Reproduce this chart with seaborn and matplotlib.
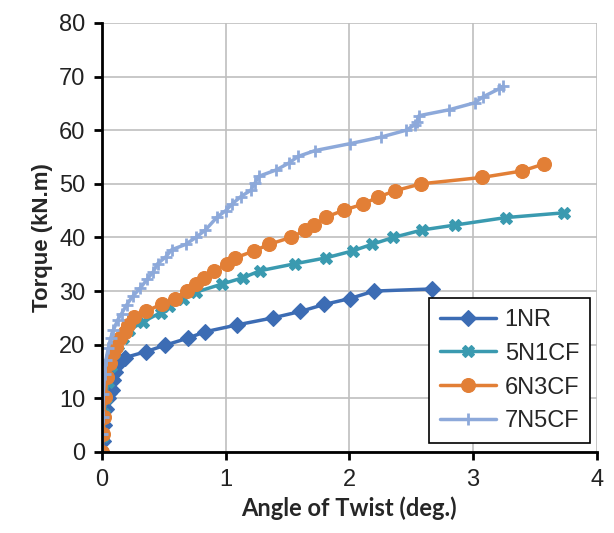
import numpy as np
import pandas as pd
import matplotlib
matplotlib.use("Agg")
import matplotlib.pyplot as plt
import seaborn as sns

sns.set_style("white")
plt.rcParams['font.family'] = ['Liberation Sans', 'DejaVu Sans']

# 1NR
x_1nr = [0, 0.01, 0.02, 0.03, 0.05, 0.06, 0.078, 0.092, 0.105, 0.145, 0.186, 0.355, 0.509,
         0.692, 0.832, 1.093, 1.381, 1.604, 1.795, 2.003, 2.199, 2.670]
y_1nr = [0, 2, 5, 8, 10, 11, 11.6, 13.4, 15.0, 16.8, 17.6, 18.7, 19.9,
         21.2, 22.4, 23.7, 25.0, 26.2, 27.5, 28.6, 30.0, 30.4]

# 5N1CF
x_5n1 = [0, 0.01, 0.02, 0.03, 0.05, 0.07, 0.10, 0.13, 0.172, 0.221, 0.334, 0.476, 0.544,
         0.657, 0.759, 0.969, 1.141, 1.279, 1.561, 1.812, 2.027, 2.180, 2.355, 2.589,
         2.851, 3.262, 3.736]
y_5n1 = [0, 3, 7, 10, 13, 16, 18.5, 20.0, 21.2, 22.7, 24.3, 26.0, 27.2,
         28.5, 29.8, 31.3, 32.5, 33.8, 35.1, 36.2, 37.5, 38.7, 40.0, 41.4,
         42.3, 43.7, 44.6]

# 6N3CF
x_6n3 = [0, 0.011, 0.016, 0.024, 0.043, 0.065, 0.086, 0.113, 0.145, 0.186, 0.213, 0.261,
         0.355, 0.485, 0.590, 0.684, 0.759, 0.824, 0.904, 1.007, 1.079, 1.230, 1.349,
         1.526, 1.642, 1.715, 1.811, 1.957, 2.108, 2.229, 2.369, 2.579, 3.074, 3.397, 3.572]
y_6n3 = [0, 3.4, 6.5, 10.3, 14.0, 16.5, 18.4, 19.6, 21.2, 22.4, 23.7, 25.1,
         26.2, 27.6, 28.5, 30.0, 31.3, 32.5, 33.7, 35.1, 36.2, 37.5, 38.7,
         40.0, 41.3, 42.3, 43.8, 45.1, 46.2, 47.5, 48.7, 50.0, 51.2, 52.4, 53.7]

# 7N5CF
x_7n5 = [0, 0.002, 0.005, 0.011, 0.022, 0.032, 0.051, 0.070, 0.092, 0.127, 0.159, 0.199,
         0.248, 0.307, 0.366, 0.415, 0.450, 0.517, 0.563, 0.676, 0.759, 0.837, 0.931,
         1.001, 1.055, 1.122, 1.203, 1.236, 1.268, 1.410, 1.513, 1.585, 1.723, 2.008,
         2.253, 2.460, 2.528, 2.546, 2.563, 2.805, 3.012, 3.079, 3.209, 3.241]
y_7n5 = [0, 3.4, 6.5, 10.9, 14.6, 17.1, 19.3, 21.2, 22.7, 24.6, 25.8, 27.4,
         29.0, 30.5, 32.2, 33.6, 35.1, 36.4, 37.7, 38.7, 40.0, 41.4, 43.8,
         45.0, 46.3, 47.6, 48.8, 50.1, 51.4, 52.6, 53.9, 55.1, 56.2, 57.5,
         58.7, 60.0, 61.0, 61.6, 62.7, 63.8, 65.1, 66.2, 67.7, 68.2]

labels = ["1NR", "5N1CF", "6N3CF", "7N5CF"]
colors = ["#3C6CB4", "#3A9AB0", "#E27F36", "#8DA9DA"]
markers = ["D", "X", "o", "+"]
msizes = [8, 8, 10, 9]
series = [(x_1nr, y_1nr), (x_5n1, y_5n1), (x_6n3, y_6n3), (x_7n5, y_7n5)]

fig = plt.figure(figsize=(6.14, 5.33), dpi=100)
ax = fig.add_axes([0.166, 0.152, 0.806, 0.805])

for (xs, ys), lab, c, m, ms in zip(series, labels, colors, markers, msizes):
    df = pd.DataFrame({"x": xs, "y": ys})
    sns.lineplot(data=df, x="x", y="y", ax=ax, color=c, marker=m, markersize=ms,
                 markeredgecolor=c, markeredgewidth=2 if m == "+" else 0.8,
                 linewidth=2.5, label=lab, estimator=None, sort=False)

ax.set_xlim(0, 4)
ax.set_ylim(0, 80)
ax.set_xticks(range(0, 5))
ax.set_yticks(range(0, 81, 10))
ax.grid(True, color="#BFBFBF", linewidth=1.2)
ax.set_axisbelow(True)
for s in ["top", "right"]:
    ax.spines[s].set_visible(False)
for s in ["left", "bottom"]:
    ax.spines[s].set_color("black")
    ax.spines[s].set_linewidth(2)
ax.tick_params(axis="both", direction="out", length=6, width=2, color="black",
               labelsize=17, labelcolor="#222222", bottom=True, left=True, pad=6)

ax.set_xlabel("Angle of Twist (deg.)", fontsize=17, fontweight="bold",
              family=["Lato", "DejaVu Sans"], labelpad=4)
ax.set_ylabel("Torque (kN.m)", fontsize=16, fontweight="bold",
              family=["Liberation Sans", "DejaVu Sans"], labelpad=4)

leg = ax.legend(loc="lower right", bbox_to_anchor=(0.986, 0.021), borderaxespad=0,
                fontsize=17, frameon=True, fancybox=False, framealpha=1,
                edgecolor="black", handlelength=2.4, labelspacing=0.5,
                borderpad=0.45, handletextpad=0.35)
leg.get_frame().set_linewidth(1.2)

fig.savefig("out.png", dpi=100)
